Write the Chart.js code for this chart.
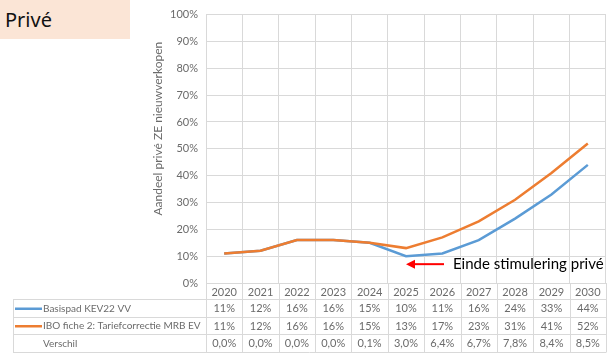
<!DOCTYPE html>
<html>
<head>
<meta charset="utf-8">
<script src="https://cdn.jsdelivr.net/npm/chart.js@4"></script>
<style>
  html, body { margin: 0; padding: 0; background: #fff; }
  #wrap { position: relative; width: 610px; height: 353px; }
  #titel {
    position: absolute; left: 0; top: 0; width: 130px; height: 39px;
    background: #fbe5d6; font: 400 20px "Noto Sans", sans-serif; color: #111;
    line-height: 39px; padding-left: 5px; box-sizing: border-box;
  }
</style>
</head>
<body>
<div id="wrap">
  <canvas id="privChart" width="610" height="353"></canvas>
  <div id="titel">Privé</div>
</div>
<script>
const years = ['2020', '2021', '2022', '2023', '2024', '2025', '2026', '2027', '2028', '2029', '2030'];
const basispad = [11, 12, 16, 16, 15, 10, 11, 16, 24, 33, 44];
const ibo = [11, 12, 16, 16, 15, 13, 17, 23, 31, 41, 52];
const verschil = [0.0, 0.0, 0.0, 0.0, 0.1, 3.0, 6.4, 6.7, 7.8, 8.4, 8.5];
const seriesNames = ['Basispad KEV22 VV', 'IBO fiche 2: Tariefcorrectie MRB EV', 'Verschil'];
const yTitle = 'Aandeel privé ZE nieuwverkopen';
const noteText = 'Einde stimulering privé';
const noteYear = '2025';

const blue = '#5b9bd5';
const orange = '#ed7d31';
const gridColor = '#d9d9d9';
const textColor = '#6b6b6b';
const fontFam = 'Lato, sans-serif';

// data table under the plot + axis title + arrow note
const tablePlugin = {
  id: 'dataTable',
  afterDraw(chart) {
    const { ctx, chartArea, scales: { x, y } } = chart;
    const step = (chartArea.right - chartArea.left) / years.length;
    const headH = 17;
    const rowH = 17.5;
    const tableLeft = 13;
    const firstRow = chartArea.bottom + headH;
    const tableBottom = firstRow + rowH * 3;

    ctx.save();
    ctx.strokeStyle = gridColor;
    ctx.lineWidth = 1;
    ctx.beginPath();
    for (let i = 0; i <= years.length; i++) {
      const px = Math.round(chartArea.left + i * step) + 0.5;
      ctx.moveTo(px, chartArea.bottom);
      ctx.lineTo(px, tableBottom);
    }
    for (let k = 0; k <= 3; k++) {
      const py = Math.round(firstRow + k * rowH) - 0.5;
      ctx.moveTo(tableLeft, py);
      ctx.lineTo(chartArea.right, py);
    }
    ctx.moveTo(tableLeft + 0.5, firstRow);
    ctx.lineTo(tableLeft + 0.5, tableBottom);
    ctx.stroke();

    // row labels with legend keys
    ctx.textBaseline = 'middle';
    const keyColors = [blue, orange, null];
    const rows = [
      basispad.map(v => v + '%'),
      ibo.map(v => v + '%'),
      verschil.map(v => v.toFixed(1).replace('.', ',') + '%')
    ];
    rows.forEach((vals, r) => {
      const cy = firstRow + r * rowH + rowH / 2;
      if (keyColors[r]) {
        ctx.strokeStyle = keyColors[r];
        ctx.lineWidth = 2.5;
        ctx.beginPath();
        ctx.moveTo(15, cy);
        ctx.lineTo(42, cy);
        ctx.stroke();
      }
      ctx.fillStyle = textColor;
      ctx.font = '10px ' + fontFam;
      ctx.textAlign = 'left';
      ctx.fillText(seriesNames[r], 43, cy);
      ctx.font = '11px ' + fontFam;
      ctx.textAlign = 'center';
      vals.forEach((t, i) => {
        ctx.fillText(t, x.getPixelForValue(i), cy);
      });
    });

    // rotated y axis title
    ctx.save();
    ctx.translate(158, chartArea.top + (chartArea.bottom - chartArea.top) * 0.425);
    ctx.rotate(-Math.PI / 2);
    ctx.font = '12px ' + fontFam;
    ctx.fillStyle = textColor;
    ctx.textAlign = 'center';
    ctx.textBaseline = 'middle';
    ctx.fillText(yTitle, 0, 0);
    ctx.restore();

    // arrow pointing at the end of the subsidy
    const idx = years.indexOf(noteYear);
    const tipX = x.getPixelForValue(idx);
    const ay = y.getPixelForValue(basispad[idx]) + 8;
    ctx.strokeStyle = '#ff0000';
    ctx.fillStyle = '#ff0000';
    ctx.lineWidth = 2;
    ctx.beginPath();
    ctx.moveTo(tipX + 38, ay);
    ctx.lineTo(tipX + 6, ay);
    ctx.stroke();
    ctx.beginPath();
    ctx.moveTo(tipX, ay);
    ctx.lineTo(tipX + 9, ay - 4.5);
    ctx.lineTo(tipX + 9, ay + 4.5);
    ctx.closePath();
    ctx.fill();

    ctx.font = '15px ' + fontFam;
    ctx.fillStyle = '#000';
    ctx.textAlign = 'left';
    ctx.textBaseline = 'middle';
    ctx.fillText(noteText, tipX + 47, ay);
    ctx.restore();
  }
};

new Chart(document.getElementById('privChart'), {
  type: 'line',
  data: {
    labels: years,
    datasets: [{
      label: seriesNames[0],
      data: basispad,
      borderColor: blue,
      backgroundColor: blue,
      borderWidth: 2.5,
      pointRadius: 0,
      order: 2
    }, {
      label: seriesNames[1],
      data: ibo,
      borderColor: orange,
      backgroundColor: orange,
      borderWidth: 2.5,
      pointRadius: 0,
      order: 1
    }]
  },
  options: {
    responsive: false,
    animation: false,
    layout: { padding: { top: 13, right: 4, left: 0, bottom: 0 } },
    plugins: {
      legend: { display: false },
      tooltip: { enabled: false }
    },
    scales: {
      x: {
        offset: true,
        grid: { color: gridColor, offset: true, drawTicks: false },
        border: { display: false },
        ticks: { color: textColor, font: { family: fontFam, size: 11 }, padding: 3, maxRotation: 0 },
        afterFit(s) { s.height = 70; }
      },
      y: {
        min: 0,
        max: 100,
        grid: { color: gridColor, drawTicks: false },
        border: { display: false },
        ticks: {
          stepSize: 10,
          color: textColor,
          font: { family: fontFam, size: 11 },
          padding: 8,
          callback: v => v + '%'
        },
        afterFit(s) { s.width = 206; }
      }
    }
  },
  plugins: [tablePlugin]
});
</script>
</body>
</html>
